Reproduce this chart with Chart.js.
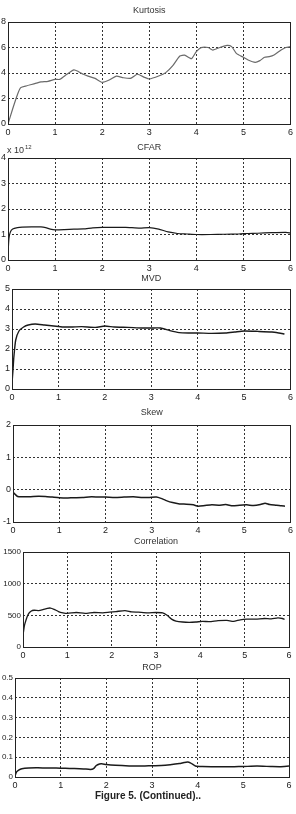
<!DOCTYPE html>
<html>
<head>
<meta charset="utf-8">
<script src="https://cdn.jsdelivr.net/npm/chart.js@4.4.1/dist/chart.umd.min.js"></script>
<style>
  html, body { margin: 0; padding: 0; background: #fff; }
  body { width: 296px; height: 814px; position: relative; overflow: hidden; }
  canvas { position: absolute; left: 0; }
  #caption {
    position: absolute; left: 0; width: 296px; top: 790px;
    text-align: center; font: bold 10px "Liberation Sans", Arial, sans-serif; color: #222;
  }
</style>
</head>
<body>
<canvas id="kurt"></canvas>
<canvas id="cfar"></canvas>
<canvas id="mvd"></canvas>
<canvas id="skew"></canvas>
<canvas id="corr"></canvas>
<canvas id="rop"></canvas>
<div id="caption">Figure 5. (Continued)..</div>
<script>
// values (x in the same units for every panel)
const xTicks = [0, 1, 2, 3, 4, 5, 6];

const kurtX = [0, 0.1, 0.2, 0.27, 0.4, 0.5, 0.6, 0.7, 0.85, 1.0, 1.1, 1.25, 1.4, 1.5, 1.6, 1.7, 1.85, 2.0, 2.15, 2.3, 2.45, 2.6, 2.75, 2.9, 3.0, 3.2, 3.35, 3.5, 3.65, 3.75, 3.85, 3.9, 4.0, 4.1, 4.25, 4.35, 4.5, 4.65, 4.75, 4.85, 5.0, 5.1, 5.25, 5.35, 5.45, 5.55, 5.65, 5.8, 5.9, 6.0];
const kurtY = [0, 1.2, 2.3, 2.85, 3.0, 3.1, 3.2, 3.3, 3.35, 3.5, 3.5, 3.9, 4.25, 4.1, 3.9, 3.76, 3.58, 3.27, 3.45, 3.76, 3.63, 3.58, 3.9, 3.66, 3.53, 3.76, 4.03, 4.58, 5.33, 5.4, 5.2, 5.12, 5.67, 5.99, 6.0, 5.8, 6.0, 6.17, 6.07, 5.54, 5.23, 5.02, 4.84, 4.97, 5.23, 5.28, 5.41, 5.8, 6.0, 6.07];
const kurtTicks = [0, 2, 4, 6, 8];

const cfarX = [0, 0.02, 0.05, 0.1, 0.2, 0.3, 0.5, 0.7, 0.8, 0.9, 1.0, 1.2, 1.4, 1.6, 1.8, 2.0, 2.2, 2.5, 2.8, 3.0, 3.2, 3.4, 3.6, 3.8, 4.0, 4.3, 4.6, 4.9, 5.1, 5.3, 5.6, 5.9, 6.0];
const cfarY = [0.2, 0.85, 1.1, 1.22, 1.27, 1.29, 1.3, 1.3, 1.27, 1.21, 1.18, 1.19, 1.21, 1.22, 1.26, 1.28, 1.28, 1.28, 1.25, 1.27, 1.21, 1.1, 1.04, 1.02, 1.0, 1.0, 1.01, 1.02, 1.04, 1.05, 1.07, 1.08, 1.06];
const cfarTicks = [0, 1, 2, 3, 4];

const mvdX = [0, 0.02, 0.04, 0.08, 0.15, 0.25, 0.35, 0.5, 0.7, 0.9, 1.1, 1.3, 1.5, 1.8, 2.0, 2.2, 2.5, 2.8, 3.0, 3.2, 3.4, 3.6, 3.8, 4.0, 4.3, 4.6, 4.8, 5.0, 5.3, 5.6, 5.75, 5.87];
const mvdY = [0.3, 0.9, 1.6, 2.45, 2.9, 3.1, 3.2, 3.25, 3.2, 3.15, 3.1, 3.1, 3.12, 3.08, 3.15, 3.1, 3.08, 3.05, 3.05, 3.05, 2.92, 2.82, 2.8, 2.8, 2.78, 2.8, 2.85, 2.9, 2.88, 2.85, 2.8, 2.75];
const mvdTicks = [0, 1, 2, 3, 4, 5];

const skewX = [0, 0.05, 0.1, 0.2, 0.35, 0.55, 0.7, 0.85, 1.0, 1.15, 1.3, 1.5, 1.7, 1.85, 2.0, 2.2, 2.4, 2.6, 2.8, 2.95, 3.1, 3.2, 3.3, 3.45, 3.6, 3.75, 3.9, 4.0, 4.15, 4.3, 4.45, 4.6, 4.75, 4.9, 5.05, 5.2, 5.35, 5.45, 5.55, 5.7, 5.8, 5.88];
const skewY = [-0.08, -0.15, -0.21, -0.22, -0.22, -0.2, -0.21, -0.23, -0.25, -0.26, -0.25, -0.24, -0.22, -0.23, -0.23, -0.24, -0.23, -0.22, -0.24, -0.24, -0.23, -0.27, -0.33, -0.4, -0.44, -0.45, -0.47, -0.51, -0.49, -0.47, -0.48, -0.46, -0.5, -0.48, -0.47, -0.49, -0.46, -0.42, -0.46, -0.48, -0.5, -0.51];
const skewTicks = [-1, 0, 1, 2];

const corrX = [0, 0.03, 0.07, 0.12, 0.18, 0.25, 0.35, 0.45, 0.55, 0.62, 0.7, 0.8, 0.9, 1.0, 1.2, 1.4, 1.6, 1.8, 1.95, 2.1, 2.3, 2.45, 2.6, 2.8, 3.0, 3.15, 3.25, 3.35, 3.45, 3.6, 3.75, 3.9, 4.05, 4.2, 4.4, 4.6, 4.75, 4.9, 5.05, 5.25, 5.45, 5.6, 5.75, 5.85, 5.9];
const corrY = [180, 330, 430, 520, 565, 580, 575, 590, 610, 615, 595, 560, 540, 530, 545, 530, 545, 540, 550, 560, 575, 555, 550, 540, 545, 540, 500, 440, 410, 395, 390, 395, 405, 400, 415, 420, 405, 430, 440, 440, 450, 445, 460, 450, 435];
const corrTicks = [0, 500, 1000, 1500];

const ropX = [0, 0.03, 0.08, 0.15, 0.3, 0.5, 0.7, 0.9, 1.1, 1.3, 1.5, 1.65, 1.72, 1.78, 1.85, 1.9, 2.0, 2.2, 2.5, 2.8, 3.0, 3.2, 3.4, 3.6, 3.7, 3.78, 3.85, 3.95, 4.1, 4.4, 4.8, 5.0, 5.3, 5.6, 5.8, 6.0];
const ropY = [0.005, 0.025, 0.035, 0.042, 0.046, 0.047, 0.045, 0.045, 0.044, 0.043, 0.041, 0.038, 0.042, 0.058, 0.066, 0.067, 0.063, 0.059, 0.056, 0.055, 0.057, 0.058, 0.062, 0.068, 0.073, 0.076, 0.07, 0.056, 0.053, 0.052, 0.052, 0.053, 0.055, 0.053, 0.052, 0.055];
const ropTicks = [0, 0.1, 0.2, 0.3, 0.4, 0.5];

const FONT = '"Liberation Sans", Arial, sans-serif';
const TOP_SPACE = 20;
const BOTTOM_SPACE = 14;

// title, frame box and the "x 10^12" multiplier
const panelDecor = {
    id: 'panelDecor',
    afterDraw(chart, args, opts) {
        const ctx = chart.ctx;
        const a = chart.chartArea;
        ctx.save();
        ctx.strokeStyle = '#222';
        ctx.lineWidth = 1;
        ctx.setLineDash([]);
        ctx.strokeRect(Math.round(a.left) + 0.5, Math.round(a.top) + 0.5,
            Math.round(a.right - a.left), Math.round(a.bottom - a.top));
        ctx.fillStyle = '#333';
        ctx.font = '9px ' + FONT;
        ctx.textAlign = 'center';
        ctx.textBaseline = 'middle';
        ctx.fillText(opts.title, (a.left + a.right) / 2, a.top - opts.titleGap);
        if (opts.exponent) {
            ctx.textAlign = 'left';
            ctx.fillText('x 10', a.left - 1, a.top - 7);
            const w = ctx.measureText('x 10').width;
            ctx.font = '6px ' + FONT;
            ctx.fillText(opts.exponent, a.left - 1 + w + 1, a.top - 11);
        }
        ctx.restore();
    }
};

function makePanel(id, box, xs, ys, yTicks, title, extra) {
    const canvas = document.getElementById(id);
    const h = (box.bottom - box.top) + TOP_SPACE + BOTTOM_SPACE;
    canvas.style.top = (box.top - TOP_SPACE) + 'px';
    canvas.style.width = '296px';
    canvas.style.height = h + 'px';
    canvas.width = 296;
    canvas.height = h;

    const points = xs.map((x, i) => ({ x: x, y: ys[i] }));

    return new Chart(canvas, {
        type: 'line',
        data: {
            datasets: [{
                data: points,
                borderColor: extra.color || '#1a1a1a',
                borderWidth: extra.width || 1.2,
                pointRadius: 0,
                tension: 0.2,
                fill: false
            }]
        },
        options: {
            responsive: false,
            animation: false,
            layout: {
                autoPadding: false,
                padding: { top: TOP_SPACE, right: 296 - box.right, left: 0, bottom: 0 }
            },
            scales: {
                x: {
                    type: 'linear',
                    min: 0,
                    max: 6,
                    afterFit: s => { s.height = BOTTOM_SPACE; },
                    afterBuildTicks: s => { s.ticks = xTicks.map(v => ({ value: v })); },
                    grid: { color: '#333', lineWidth: 1, drawTicks: false },
                    border: { display: false, dash: [2, 2] },
                    ticks: { color: '#222', padding: 3, font: { size: 9, family: FONT }, callback: v => String(v) }
                },
                y: {
                    type: 'linear',
                    min: yTicks[0],
                    max: yTicks[yTicks.length - 1],
                    afterFit: s => { s.width = box.left; },
                    afterBuildTicks: s => { s.ticks = yTicks.map(v => ({ value: v })); },
                    grid: { color: '#333', lineWidth: 1, drawTicks: false },
                    border: { display: false, dash: [2, 2] },
                    ticks: { color: '#222', padding: 2, font: { size: extra.yFont || 9, family: FONT }, callback: v => String(v) }
                }
            },
            plugins: {
                legend: { display: false },
                tooltip: { enabled: false },
                panelDecor: { title: title, titleGap: extra.titleGap || 11, exponent: extra.exponent }
            }
        },
        plugins: [panelDecor]
    });
}

makePanel('kurt', { left: 8, right: 293, top: 22, bottom: 124 }, kurtX, kurtY, kurtTicks, 'Kurtosis', { color: '#6a6a6a', width: 1.2 });
makePanel('cfar', { left: 8, right: 292, top: 158, bottom: 260 }, cfarX, cfarY, cfarTicks, 'CFAR', { exponent: '12', titleGap: 10 });
makePanel('mvd', { left: 12, right: 292, top: 289, bottom: 389 }, mvdX, mvdY, mvdTicks, 'MVD', { titleGap: 10, width: 1.4 });
makePanel('skew', { left: 13, right: 292, top: 425, bottom: 522 }, skewX, skewY, skewTicks, 'Skew', { titleGap: 12, width: 1.5 });
makePanel('corr', { left: 23, right: 289, top: 552, bottom: 647 }, corrX, corrY, corrTicks, 'Correlation', { titleGap: 10, width: 1.3, yFont: 8 });
makePanel('rop', { left: 15, right: 289, top: 678, bottom: 777 }, ropX, ropY, ropTicks, 'ROP', { titleGap: 10, width: 1.5, yFont: 8 });
</script>
</body>
</html>
